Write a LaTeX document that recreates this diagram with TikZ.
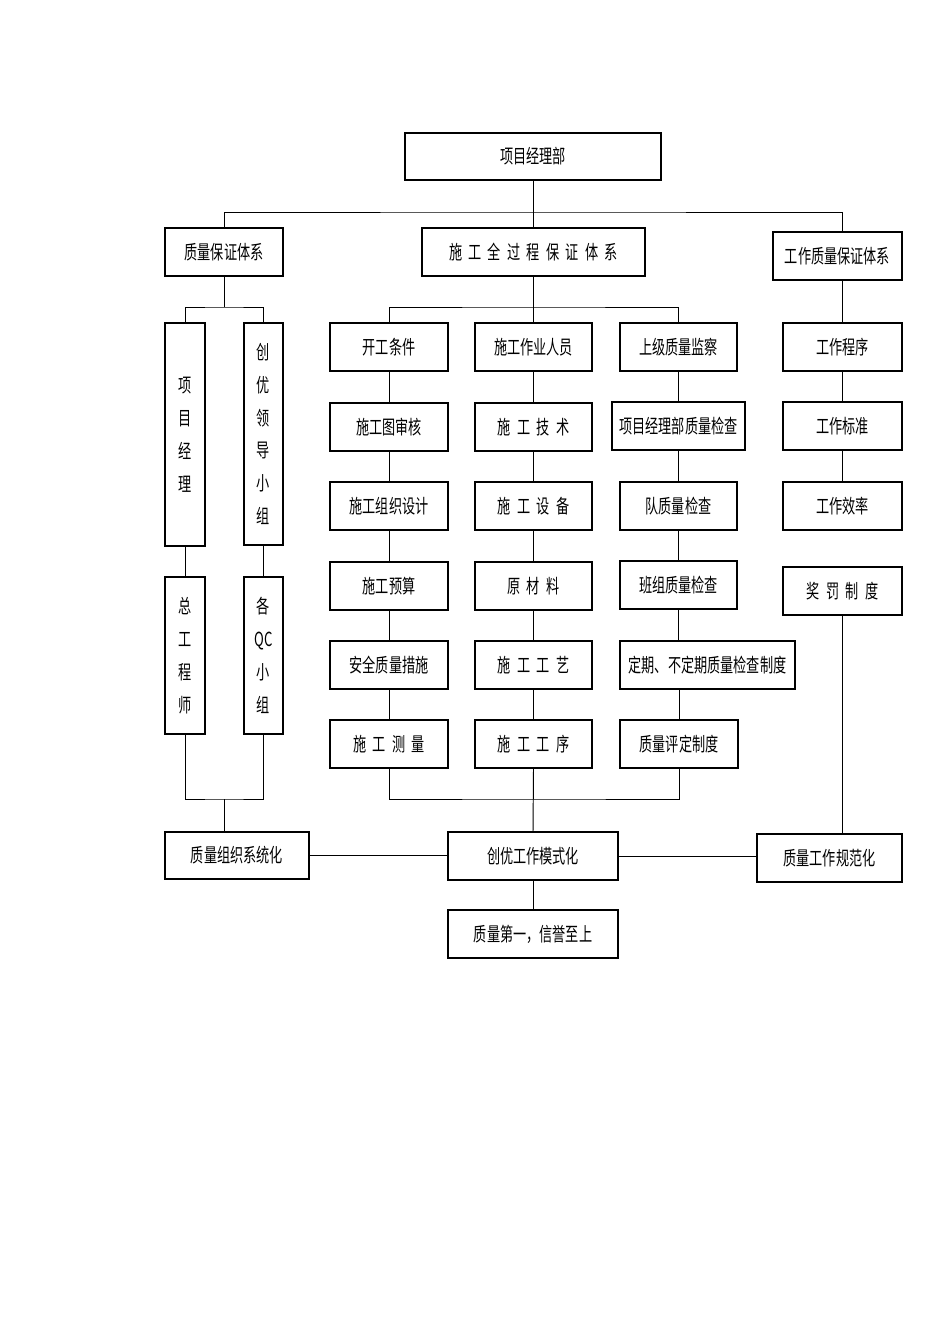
\documentclass[tikz,border=0pt]{standalone}
\usepackage{fontspec}
\usepackage{tikz}
\usetikzlibrary{calc}
\newfontfamily\cjk[FakeStretch=0.68]{Noto Sans CJK SC}
\newcommand{\csp}{\hspace{3.6pt}}

\begin{document}
\begin{tikzpicture}[
  box/.style={draw=black,line width=0.7pt,minimum height=0.96cm,align=center,font=\cjk\fontsize{11}{12}\selectfont,inner xsep=1pt,inner ysep=2pt},
  tall/.style={box,minimum width=0.8cm,font=\cjk\fontsize{11}{18.7}\selectfont},
  link/.style={draw=black,line width=0.55pt}
]
\useasboundingbox (0,0) rectangle (19,-26.88);

% top level
\node[box,minimum width=5.12cm,minimum height=0.94cm] (pm) at (10.66,-3.13) {项目经理部};
\node[box,minimum width=2.36cm] (qa) at (4.48,-5.04) {质量保证体系};
\node[box,minimum width=4.46cm] (proc) at (10.67,-5.04) {施\csp 工\csp 全\csp 过\csp 程\csp 保\csp 证\csp 体\csp 系};
\node[box,minimum width=2.58cm] (work) at (16.75,-5.12) {工作质量保证体系};

% left branch
\node[tall,minimum height=4.46cm] (pmgr) at (3.70,-8.69) {项\\目\\经\\理};
\node[tall,minimum height=4.44cm,minimum width=0.78cm] (lead) at (5.27,-8.68) {创\\优\\领\\导\\小\\组};
\node[tall,minimum height=3.14cm] (chief) at (3.70,-13.11) {总\\工\\程\\师};
\node[tall,minimum height=3.14cm,minimum width=0.78cm] (qc) at (5.27,-13.11) {各\\QC\\小\\组};

% middle branch
\node[box,minimum width=2.36cm] (start) at (7.78,-6.94) {开工条件};
\node[box,minimum width=2.36cm] (drawing) at (7.78,-8.54) {施工图审核};
\node[box,minimum width=2.36cm] (design) at (7.78,-10.12) {施工组织设计};
\node[box,minimum width=2.36cm] (budget) at (7.78,-11.72) {施工预算};
\node[box,minimum width=2.36cm] (safety) at (7.78,-13.30) {安全质量措施};
\node[box,minimum width=2.36cm] (survey) at (7.78,-14.88) {施\csp 工\csp 测\csp 量};

\node[box,minimum width=2.34cm] (staff) at (10.67,-6.94) {施工作业人员};
\node[box,minimum width=2.34cm] (tech) at (10.67,-8.54) {施\csp 工\csp 技\csp 术};
\node[box,minimum width=2.34cm] (equip) at (10.67,-10.12) {施\csp 工\csp 设\csp 备};
\node[box,minimum width=2.34cm] (material) at (10.67,-11.72) {原\csp 材\csp 料};
\node[box,minimum width=2.34cm] (craft) at (10.67,-13.30) {施\csp 工\csp 工\csp 艺};
\node[box,minimum width=2.34cm] (sequence) at (10.67,-14.88) {施\csp 工\csp 工\csp 序};

\node[box,minimum width=2.34cm] (supervise) at (13.57,-6.94) {上级质量监察};
\node[box,minimum width=2.66cm] (pmcheck) at (13.57,-8.52) {项目经理部质量检查};
\node[box,minimum width=2.34cm] (teamcheck) at (13.57,-10.12) {队质量检查};
\node[box,minimum width=2.34cm] (groupcheck) at (13.57,-11.70) {班组质量检查};
\node[box,minimum width=3.50cm] (regular) at (14.15,-13.30) {定期、不定期质量检查制度};
\node[box,minimum width=2.36cm] (evaluate) at (13.58,-14.88) {质量评定制度};

% right branch
\node[box,minimum width=2.38cm] (procedure) at (16.85,-6.94) {工作程序};
\node[box,minimum width=2.38cm] (standard) at (16.85,-8.52) {工作标准};
\node[box,minimum width=2.38cm] (efficiency) at (16.85,-10.12) {工作效率};
\node[box,minimum width=2.38cm] (reward) at (16.85,-11.82) {奖\csp 罚\csp 制\csp 度};

% results
\node[box,minimum width=2.88cm,minimum height=0.94cm] (org) at (4.74,-17.11) {质量组织系统化};
\node[box,minimum width=3.40cm] (mode) at (10.66,-17.12) {创优工作模式化};
\node[box,minimum width=2.90cm] (norm) at (16.59,-17.16) {质量工作规范化};
\node[box,minimum width=3.40cm] (motto) at (10.66,-18.68) {质量第一，信誉至上};

\coordinate (topbus) at (10.66,-4.24);
\coordinate (lbus) at (4.48,-6.14);
\coordinate (lbot) at (4.48,-15.98);
\coordinate (mbus) at (10.67,-6.14);
\coordinate (mbot) at (10.67,-15.98);

\draw[link] (pm.south) -- (pm.south |- proc.north);
\draw[link] (qa.north) |- (topbus) -| ([xshift=0.10cm]work.north);

\draw[link] (qa.south) -- (lbus);
\draw[link] (pmgr.north) |- (lbus) -| (lead.north);
\draw[link] (pmgr) -- (chief);
\draw[link] (lead) -- (qc);
\draw[link] (chief.south) |- (lbot) -| (qc.south);
\draw[link] (lbot) -- (lbot |- org.north);

\draw[link] (proc.south) -- (mbus);
\draw[link] (start.north) |- (mbus) -| (supervise.north);
\draw[link] (mbus) -- (staff.north);
\draw[link] (start) -- (drawing);
\draw[link] (drawing) -- (design);
\draw[link] (design) -- (budget);
\draw[link] (budget) -- (safety);
\draw[link] (safety) -- (survey);
\draw[link] (staff) -- (tech);
\draw[link] (tech) -- (equip);
\draw[link] (equip) -- (material);
\draw[link] (material) -- (craft);
\draw[link] (craft) -- (sequence);
\draw[link] (supervise) -- (pmcheck);
\draw[link] (pmcheck) -- (teamcheck);
\draw[link] (teamcheck) -- (groupcheck);
\draw[link] (groupcheck.south) -- (groupcheck.south |- regular.north);
\draw[link] (evaluate.north |- regular.south) -- (evaluate.north);
\draw[link] (survey.south) |- (mbot) -| (evaluate.south);
\draw[link] (sequence.south) -- (mode.north);

\draw[link] (procedure.north |- work.south) -- (procedure.north);
\draw[link] (procedure) -- (standard);
\draw[link] (standard) -- (efficiency);
\draw[link] (reward.south) -- (reward.south |- norm.north);

\draw[link] (org.east) -- (org.east -| mode.west);
\draw[link] (mode.east) -- (mode.east -| norm.west);
\draw[link] (mode) -- (motto);
\end{tikzpicture}
\end{document}
